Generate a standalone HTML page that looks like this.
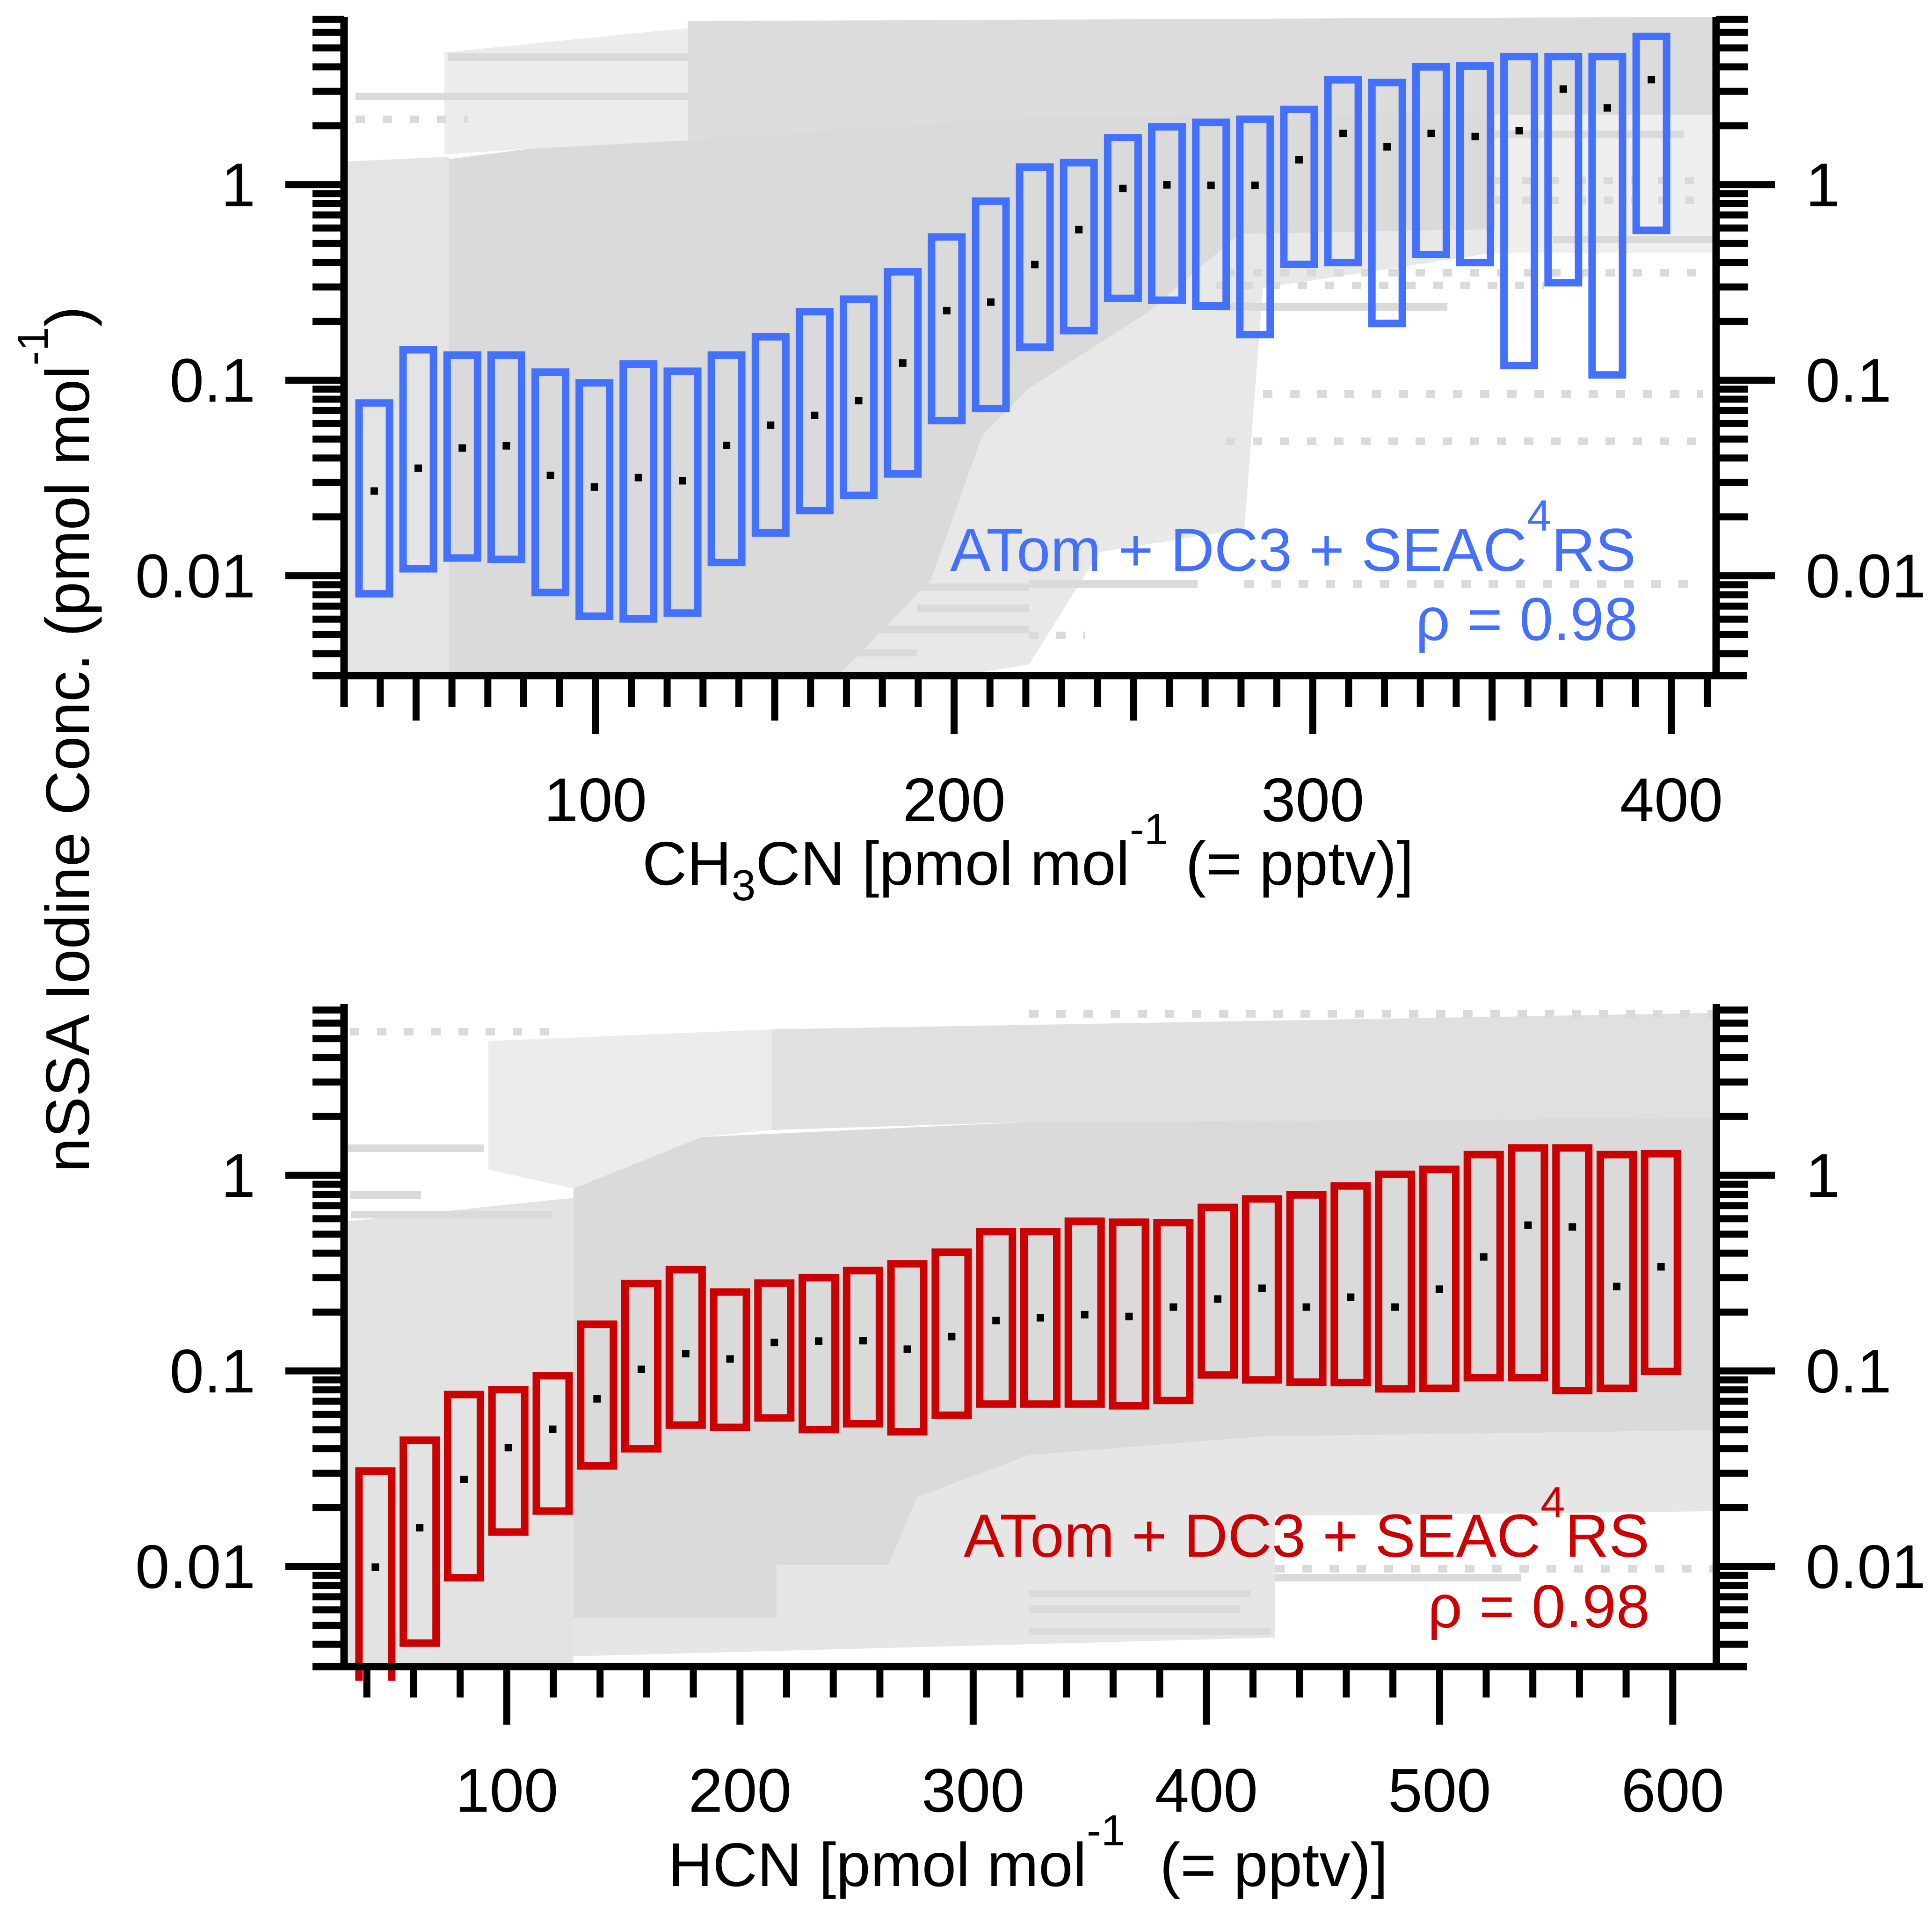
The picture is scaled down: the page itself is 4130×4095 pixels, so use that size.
<!DOCTYPE html>
<html><head><meta charset="utf-8">
<style>
html,body{margin:0;padding:0;background:#fff;overflow:hidden;}
svg{display:block;}
text{font-family:"Liberation Sans",Arial,sans-serif;}
</style></head>
<body>
<svg width="4130" height="4095" viewBox="0 0 4130 4095" xmlns="http://www.w3.org/2000/svg">
<defs>
<clipPath id="c1"><rect x="744" y="36" width="2917" height="1400"/></clipPath>
<clipPath id="c2"><rect x="744" y="2146" width="2917" height="1408"/></clipPath>
</defs>
<rect width="4130" height="4095" fill="#fff"/>

<!-- ===== TOP PANEL gray scatter ===== -->
<g clip-path="url(#c1)">
<polygon fill="#e4e4e4" points="744,345 960,335 960,1436 744,1436"/>
<polygon fill="#ececec" points="950,112 1470,60 1470,300 1130,318 950,330"/>
<polygon fill="#dcdcdc" points="1470,45 3661,36 3661,245 2200,250 1470,300"/>
<polygon fill="#dadada" points="960,340 1130,318 1470,300 2200,250 3196,245 3196,490 2650,500 2450,670 2200,830 2100,930 1990,1240 1800,1436 960,1436"/>
<polygon fill="#efefef" points="3196,245 3661,245 3661,540 3196,540"/>
<polygon fill="#e8e8e8" points="2200,830 2450,670 2650,500 3196,490 3196,540 2700,615 2660,1130 2350,1180 2200,1420 2100,1436 1800,1436 1990,1240 2100,930"/>
<g stroke="#dadada" stroke-width="16" fill="none">
<path d="M760 206H1470M958 122H1470M2600 656H3094M2200 1248H2560M1752 1255H2200M1960 1300H2200M1700 1345H2200M1720 1395H1960M3196 287H3600M3320 512H3661"/>
<path stroke-dasharray="20 38" d="M2700 842H3640M2620 943H3640M2660 1248H3640M2620 583H3640M2600 610H3300M3196 386H3661M3196 428H3661M2200 1358H2320M760 255H1000"/>
</g>
</g>

<!-- ===== BOTTOM PANEL gray scatter ===== -->
<g clip-path="url(#c2)">
<polygon fill="#e3e3e3" points="744,2610 1226,2560 1226,3554 744,3554"/>
<polygon fill="#ececec" points="1044,2225 1650,2200 1650,2415 1500,2430 1226,2540 1044,2500"/>
<polygon fill="#e0e0e0" points="1650,2200 3661,2165 3661,2390 2200,2398 1650,2415"/>
<polygon fill="#dadada" points="1226,2540 1500,2430 2200,2398 3661,2390 3661,3057 2700,3070 2200,3110 1960,3200 1900,3344 1660,3344 1660,3458 1226,3458"/>
<polygon fill="#e6e6e6" points="1226,3458 1660,3458 1660,3344 1900,3344 1960,3200 2200,3110 2700,3070 3661,3057 3661,3230 2726,3240 2726,3500 1226,3540"/>
<g stroke="#dadada" stroke-width="16" fill="none">
<path d="M744 2454H1035M750 2596H1180M748 2554H900M2726 3372H3252M2200 3487H2717M2200 3406H2673M2200 3439H2650"/>
<path stroke-dasharray="20 38" d="M748 2205H1178M2726 3353H3661M2200 2167H3661"/>
</g>
</g>

<!-- ===== TOP PANEL boxes ===== -->
<g fill="none" stroke="#4470ff" stroke-width="16">
<rect x="767.5" y="861.3" width="65" height="407.8"/>
<rect x="861.6" y="747.5" width="65" height="468.1"/>
<rect x="955.8" y="759.0" width="65" height="433.6"/>
<rect x="1049.9" y="759.0" width="65" height="436.5"/>
<rect x="1144.1" y="795.3" width="65" height="471.0"/>
<rect x="1238.2" y="818.3" width="65" height="498.7"/>
<rect x="1332.3" y="778.1" width="65" height="544.6"/>
<rect x="1426.5" y="793.4" width="65" height="516.9"/>
<rect x="1520.6" y="759.0" width="65" height="443.2"/>
<rect x="1614.8" y="719.8" width="65" height="419.2"/>
<rect x="1708.9" y="666.2" width="65" height="425.0"/>
<rect x="1803.0" y="639.4" width="65" height="419.3"/>
<rect x="1897.2" y="581.0" width="65" height="431.8"/>
<rect x="1991.3" y="506.4" width="65" height="392.5"/>
<rect x="2085.5" y="429.9" width="65" height="443.2"/>
<rect x="2179.6" y="357.2" width="65" height="384.8"/>
<rect x="2273.7" y="347.6" width="65" height="359.0"/>
<rect x="2367.9" y="294.0" width="65" height="343.7"/>
<rect x="2462.0" y="271.1" width="65" height="370.5"/>
<rect x="2556.2" y="261.5" width="65" height="392.5"/>
<rect x="2650.3" y="254.8" width="65" height="460.4"/>
<rect x="2744.4" y="233.8" width="65" height="331.2"/>
<rect x="2838.6" y="170.6" width="65" height="390.6"/>
<rect x="2932.7" y="176.4" width="65" height="514.9"/>
<rect x="3026.9" y="142.9" width="65" height="401.1"/>
<rect x="3121.0" y="141.0" width="65" height="420.2"/>
<rect x="3215.1" y="120.9" width="65" height="660.3"/>
<rect x="3309.3" y="120.9" width="65" height="483.4"/>
<rect x="3403.4" y="120.9" width="65" height="680.4"/>
<rect x="3497.6" y="77.8" width="65" height="414.5"/>
</g>
<g fill="#000">
<rect x="792.0" y="1041.5" width="16" height="16"/>
<rect x="886.1" y="992.7" width="16" height="16"/>
<rect x="980.3" y="949.6" width="16" height="16"/>
<rect x="1074.4" y="944.8" width="16" height="16"/>
<rect x="1168.6" y="1008.0" width="16" height="16"/>
<rect x="1262.7" y="1032.9" width="16" height="16"/>
<rect x="1356.8" y="1012.8" width="16" height="16"/>
<rect x="1451.0" y="1019.5" width="16" height="16"/>
<rect x="1545.1" y="943.9" width="16" height="16"/>
<rect x="1639.3" y="900.8" width="16" height="16"/>
<rect x="1733.4" y="879.8" width="16" height="16"/>
<rect x="1827.5" y="848.2" width="16" height="16"/>
<rect x="1921.7" y="767.9" width="16" height="16"/>
<rect x="2015.8" y="655.9" width="16" height="16"/>
<rect x="2110.0" y="637.7" width="16" height="16"/>
<rect x="2204.1" y="557.4" width="16" height="16"/>
<rect x="2298.2" y="482.8" width="16" height="16"/>
<rect x="2392.4" y="394.8" width="16" height="16"/>
<rect x="2486.5" y="387.1" width="16" height="16"/>
<rect x="2580.7" y="388.1" width="16" height="16"/>
<rect x="2674.8" y="388.1" width="16" height="16"/>
<rect x="2768.9" y="333.5" width="16" height="16"/>
<rect x="2863.1" y="277.1" width="16" height="16"/>
<rect x="2957.2" y="305.8" width="16" height="16"/>
<rect x="3051.4" y="277.1" width="16" height="16"/>
<rect x="3145.5" y="283.8" width="16" height="16"/>
<rect x="3239.6" y="271.3" width="16" height="16"/>
<rect x="3333.8" y="182.4" width="16" height="16"/>
<rect x="3427.9" y="222.6" width="16" height="16"/>
<rect x="3522.1" y="162.3" width="16" height="16"/>
</g>

<!-- ===== BOTTOM PANEL boxes ===== -->
<g fill="none" stroke="#cc0000" stroke-width="16">
<path d="M767.4 3592V3144.1H837.4V3592"/>
<rect x="862.2" y="3078.1" width="70" height="433.6"/>
<rect x="956.9" y="2980.5" width="70" height="391.5"/>
<rect x="1051.7" y="2970.0" width="70" height="304.4"/>
<rect x="1146.5" y="2940.3" width="70" height="289.2"/>
<rect x="1241.3" y="2830.3" width="70" height="302.6"/>
<rect x="1336.0" y="2743.2" width="70" height="353.3"/>
<rect x="1430.8" y="2713.6" width="70" height="332.2"/>
<rect x="1525.6" y="2761.4" width="70" height="289.2"/>
<rect x="1620.3" y="2742.3" width="70" height="288.2"/>
<rect x="1715.1" y="2730.8" width="70" height="324.6"/>
<rect x="1809.9" y="2715.5" width="70" height="327.4"/>
<rect x="1904.6" y="2701.1" width="70" height="359.0"/>
<rect x="1999.4" y="2676.3" width="70" height="348.4"/>
<rect x="2094.2" y="2632.2" width="70" height="368.6"/>
<rect x="2189.0" y="2632.2" width="70" height="368.6"/>
<rect x="2283.7" y="2610.2" width="70" height="390.6"/>
<rect x="2378.5" y="2612.2" width="70" height="392.4"/>
<rect x="2473.3" y="2613.1" width="70" height="380.1"/>
<rect x="2568.0" y="2580.6" width="70" height="358.0"/>
<rect x="2662.8" y="2562.4" width="70" height="386.8"/>
<rect x="2757.6" y="2553.8" width="70" height="400.2"/>
<rect x="2852.3" y="2534.7" width="70" height="420.2"/>
<rect x="2947.1" y="2509.8" width="70" height="458.5"/>
<rect x="3041.9" y="2499.3" width="70" height="468.0"/>
<rect x="3136.7" y="2467.7" width="70" height="476.7"/>
<rect x="3231.4" y="2453.4" width="70" height="491.0"/>
<rect x="3326.2" y="2453.4" width="70" height="518.7"/>
<rect x="3421.0" y="2467.7" width="70" height="499.6"/>
<rect x="3515.7" y="2465.8" width="70" height="465.2"/>
</g>
<g fill="#000">
<rect x="794.4" y="3341.4" width="16" height="16"/>
<rect x="889.2" y="3257.2" width="16" height="16"/>
<rect x="983.9" y="3153.9" width="16" height="16"/>
<rect x="1078.7" y="3086.0" width="16" height="16"/>
<rect x="1173.5" y="3046.7" width="16" height="16"/>
<rect x="1268.3" y="2981.7" width="16" height="16"/>
<rect x="1363.0" y="2918.6" width="16" height="16"/>
<rect x="1457.8" y="2885.1" width="16" height="16"/>
<rect x="1552.6" y="2896.5" width="16" height="16"/>
<rect x="1647.3" y="2861.2" width="16" height="16"/>
<rect x="1742.1" y="2858.3" width="16" height="16"/>
<rect x="1836.9" y="2857.3" width="16" height="16"/>
<rect x="1931.6" y="2875.5" width="16" height="16"/>
<rect x="2026.4" y="2848.7" width="16" height="16"/>
<rect x="2121.2" y="2814.3" width="16" height="16"/>
<rect x="2216.0" y="2808.5" width="16" height="16"/>
<rect x="2310.7" y="2801.8" width="16" height="16"/>
<rect x="2405.5" y="2805.7" width="16" height="16"/>
<rect x="2500.3" y="2785.6" width="16" height="16"/>
<rect x="2595.0" y="2768.4" width="16" height="16"/>
<rect x="2689.8" y="2745.4" width="16" height="16"/>
<rect x="2784.6" y="2785.6" width="16" height="16"/>
<rect x="2879.3" y="2764.5" width="16" height="16"/>
<rect x="2974.1" y="2785.6" width="16" height="16"/>
<rect x="3068.9" y="2747.3" width="16" height="16"/>
<rect x="3163.7" y="2678.4" width="16" height="16"/>
<rect x="3258.4" y="2610.5" width="16" height="16"/>
<rect x="3353.2" y="2614.3" width="16" height="16"/>
<rect x="3448.0" y="2741.6" width="16" height="16"/>
<rect x="3542.7" y="2699.5" width="16" height="16"/>
</g>

<!-- ===== AXES ===== -->
<g stroke="#000" fill="none">
<path stroke-width="16" d="M735.5 36V1511M3668.5 36V1452M668 1444H3735"/>
<path stroke-width="16" d="M735.5 2146V3570M3669 2146V3570M668 3562H3735"/>

<path id="lt1" stroke-width="15" d="M668 268.8h68M668 195.2h68M668 142.9h68M668 102.4h68M668 69.3h68M668 41.4h68M668 686.8h68M668 613.2h68M668 560.9h68M668 520.4h68M668 487.3h68M668 459.4h68M668 435.1h68M668 413.7h68M668 1104.8h68M668 1031.2h68M668 978.9h68M668 938.4h68M668 905.3h68M668 877.4h68M668 853.1h68M668 831.7h68M668 1397h68M668 1356.4h68M668 1323.3h68M668 1295.4h68M668 1271.1h68M668 1249.7h68M610 394.6h126M610 812.6h126M610 1230.6h126"/>
<use href="#lt1" transform="matrix(-1 0 0 1 4404.5 0)"/>

<path id="lt2" stroke-width="15" d="M668 2386.2h68M668 2312.6h68M668 2260.3h68M668 2219.8h68M668 2186.7h68M668 2158.8h68M668 2804.2h68M668 2730.6h68M668 2678.3h68M668 2637.8h68M668 2604.7h68M668 2576.8h68M668 2552.5h68M668 2531.1h68M668 3222.2h68M668 3148.6h68M668 3096.3h68M668 3055.8h68M668 3022.7h68M668 2994.8h68M668 2970.5h68M668 2949.1h68M668 3514.3h68M668 3473.8h68M668 3440.7h68M668 3412.8h68M668 3388.5h68M668 3367.1h68M610 2512h126M610 2930h126M610 3348h126"/>
<use href="#lt2" transform="matrix(-1 0 0 1 4405 0)"/>

<path stroke-width="15" d="M812.8 1444v67M966.1 1444v67M1042.8 1444v67M1119.5 1444v67M1196.1 1444v67M1349.5 1444v67M1426.1 1444v67M1502.8 1444v67M1579.5 1444v67M1732.8 1444v67M1809.5 1444v67M1886.2 1444v67M1962.8 1444v67M2116.2 1444v67M2192.9 1444v67M2269.5 1444v67M2346.2 1444v67M2499.5 1444v67M2576.2 1444v67M2652.9 1444v67M2729.5 1444v67M2882.9 1444v67M2959.6 1444v67M3036.2 1444v67M3112.9 1444v67M3266.2 1444v67M3342.9 1444v67M3419.6 1444v67M3496.2 1444v67M3649.6 1444v67M889.4 1444v96M1656.2 1444v96M2422.9 1444v96M3189.6 1444v96M1272.8 1444v125M2039.5 1444v125M2806.2 1444v125M3572.9 1444v125"/>

<path stroke-width="15" d="M784.2 3562v66M883.9 3562v66M983.6 3562v66M1183 3562v66M1282.7 3562v66M1382.4 3562v66M1482.1 3562v66M1681.5 3562v66M1781.2 3562v66M1880.9 3562v66M1980.6 3562v66M2180 3562v66M2279.7 3562v66M2379.4 3562v66M2479.1 3562v66M2678.5 3562v66M2778.2 3562v66M2877.9 3562v66M2977.6 3562v66M3177 3562v66M3276.7 3562v66M3376.4 3562v66M3476.1 3562v66M1083.3 3562v124M1581.8 3562v124M2080.3 3562v124M2578.8 3562v124M3077.3 3562v124M3575.8 3562v124"/>
</g>

<!-- ===== TICK LABELS ===== -->
<g font-size="132" fill="#000">
<text x="546" y="440.6" text-anchor="end">1</text>
<text x="546" y="858.6" text-anchor="end">0.1</text>
<text x="546" y="1276.6" text-anchor="end">0.01</text>
<text x="3860" y="440.6">1</text>
<text x="3860" y="858.6">0.1</text>
<text x="3860" y="1276.6">0.01</text>

<text x="546" y="2558" text-anchor="end">1</text>
<text x="546" y="2976" text-anchor="end">0.1</text>
<text x="546" y="3394" text-anchor="end">0.01</text>
<text x="3860" y="2558">1</text>
<text x="3860" y="2976">0.1</text>
<text x="3860" y="3394">0.01</text>

<text x="1272.8" y="1755" text-anchor="middle">100</text>
<text x="2039.5" y="1755" text-anchor="middle">200</text>
<text x="2806.2" y="1755" text-anchor="middle">300</text>
<text x="3572.9" y="1755" text-anchor="middle">400</text>

<text x="1083.3" y="3872" text-anchor="middle">100</text>
<text x="1581.8" y="3872" text-anchor="middle">200</text>
<text x="2080.3" y="3872" text-anchor="middle">300</text>
<text x="2578.8" y="3872" text-anchor="middle">400</text>
<text x="3077.3" y="3872" text-anchor="middle">500</text>
<text x="3575.8" y="3872" text-anchor="middle">600</text>

<text x="1373" y="1891">CH<tspan dy="33" font-size="93">3</tspan><tspan dy="-33">CN [pmol mol</tspan><tspan dy="-87" font-size="93">-1</tspan><tspan dy="87"> (= pptv)]</tspan></text>
<text x="1428" y="4031">HCN [pmol mol<tspan dy="-87" font-size="93">-1</tspan><tspan dy="87" dx="37"> (= pptv)]</tspan></text>
<text transform="translate(190,1580) rotate(-90)" text-anchor="middle">nSSA Iodine Conc. (pmol mol<tspan dy="-88" font-size="93">-1</tspan><tspan dy="88">)</tspan></text>
</g>

<!-- ===== LEGENDS ===== -->
<g font-size="130" fill="#4470ff" text-anchor="end">
<text x="3497" y="1220">ATom + DC3 + SEAC<tspan dy="-86" font-size="94">4</tspan><tspan dy="86">RS</tspan></text>
<text x="3501" y="1368">ρ = 0.98</text>
</g>
<g font-size="130" fill="#cc0000" text-anchor="end">
<text x="3526" y="3327">ATom + DC3 + SEAC<tspan dy="-84" font-size="94">4</tspan><tspan dy="84">RS</tspan></text>
<text x="3527" y="3478">ρ = 0.98</text>
</g>
</svg>
</body></html>
